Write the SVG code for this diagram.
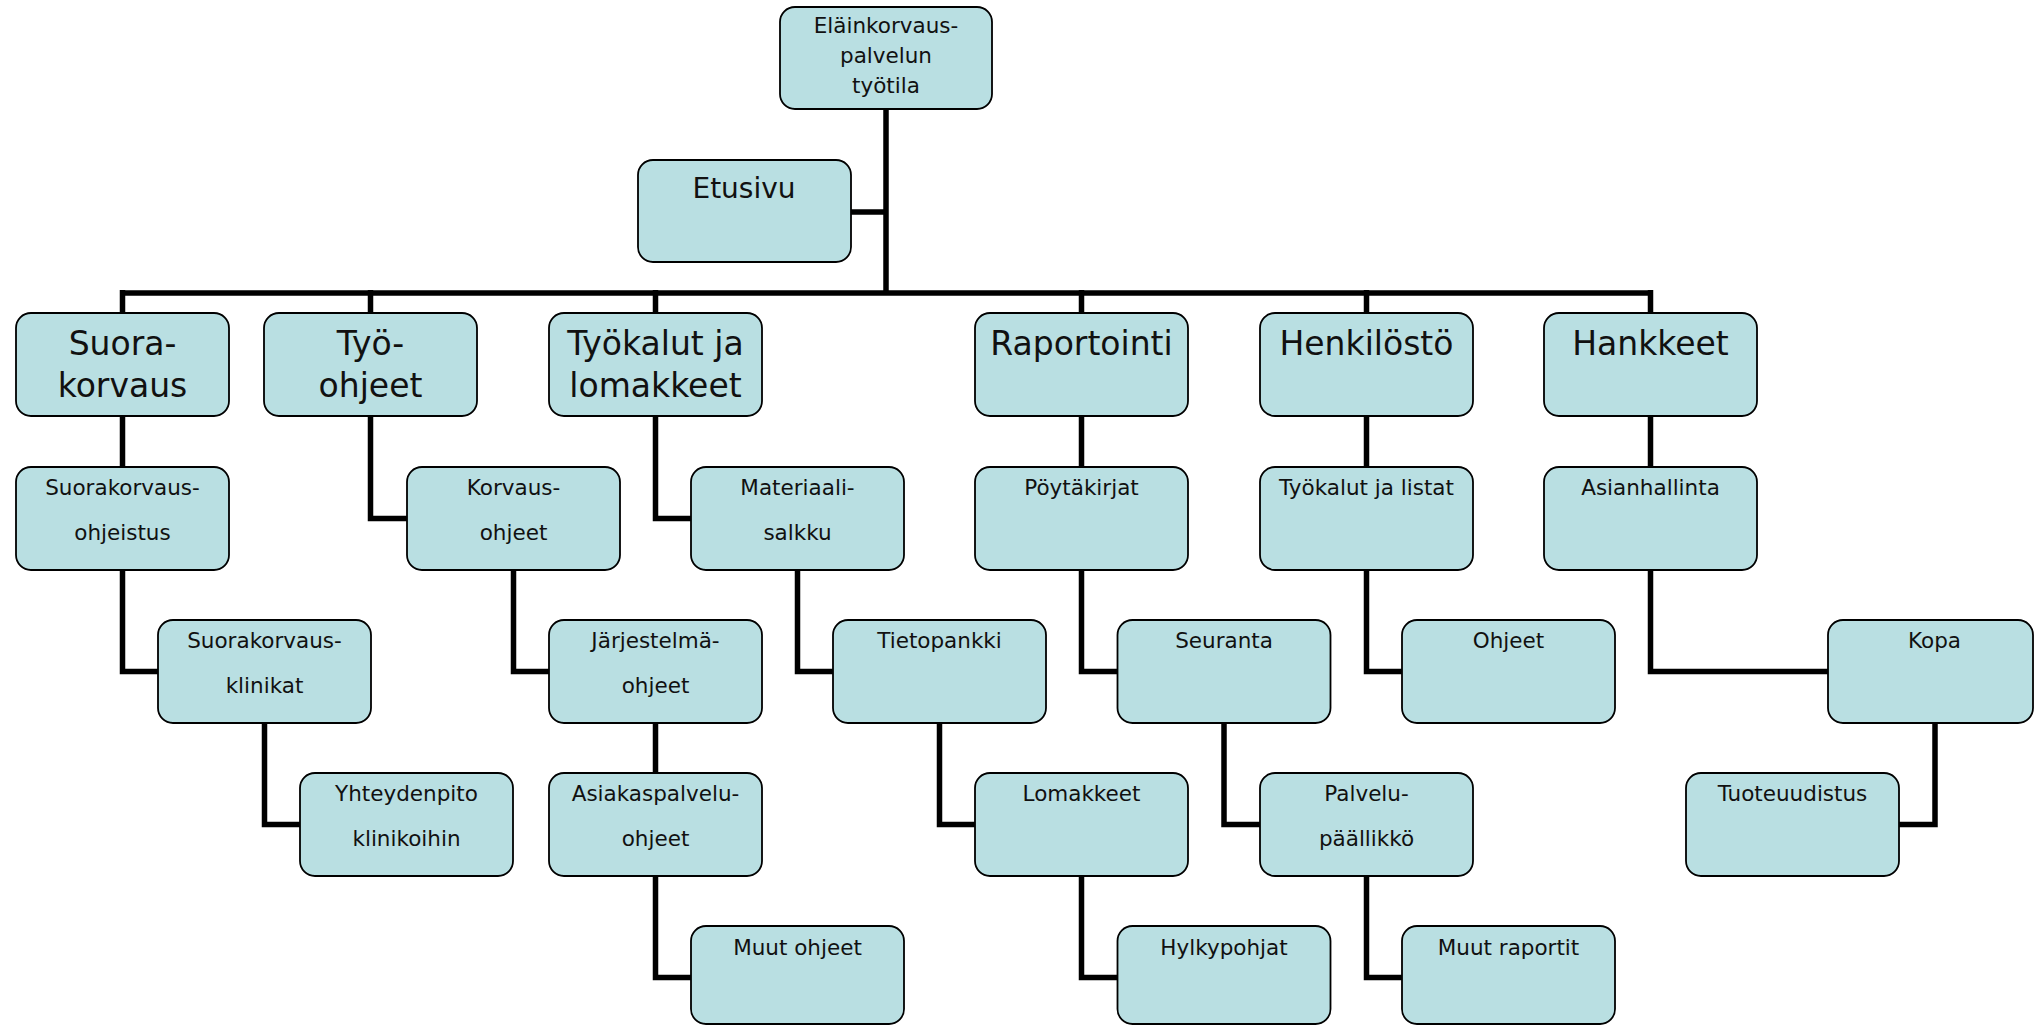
<svg xmlns="http://www.w3.org/2000/svg" width="2034" height="1026" viewBox="0 0 2034 1026">
<style>
.box{fill:#B9DFE2;stroke:#000;stroke-width:1.8}
text{font-family:"DejaVu Sans","Liberation Sans",sans-serif;fill:#111;text-anchor:middle}
.s{font-size:21.5px}
.l{font-size:33px}
.c{fill:none;stroke:#000;stroke-width:5.5;stroke-linejoin:miter;stroke-linecap:butt}
</style>
<rect width="2034" height="1026" fill="#fff"/>
<g id="connectors" class="c">
<path d="M886,109V293M851,212H886M122.5,293H1650.5M122.5,290V313M370.5,290V313M655.5,290V313M1081.5,290V313M1366.5,290V313M1650.5,290V313"/>
<path d="M122.5,416V467M122.5,570V671.5H158M264.5,723V824.5H300"/>
<path d="M370.5,416V518.5H407M513.5,570V671.5H549M655.5,723V773M655.5,876V977.5H691"/>
<path d="M655.5,416V518.5H691M797.5,570V671.5H833M939.5,723V824.5H975M1081.5,876V977.5H1117.5"/>
<path d="M1081.5,416V467M1081.5,570V671.5H1117.5M1224,723V824.5H1260M1366.5,876V977.5H1402"/>
<path d="M1366.5,416V467M1366.5,570V671.5H1402"/>
<path d="M1650.5,416V467M1650.5,570V671.5H1828M1935,723V824.5H1899"/>
</g>
<g id="n-root"><rect class="box" x="780" y="7" width="212" height="102" rx="15"/><text class="s" x="886" y="33" font-size="21">Eläinkorvaus-</text><text class="s" x="886" y="63">palvelun</text><text class="s" x="886" y="92.5">työtila</text></g>
<g id="n-etusivu"><rect class="box" x="638" y="160" width="213" height="102" rx="15"/><text x="744" y="198" font-size="28">Etusivu</text></g>
<g id="n-suora"><rect class="box" x="16" y="313" width="213" height="103" rx="15"/><text class="l" x="122.5" y="355">Suora-</text><text class="l" x="122.5" y="397">korvaus</text></g>
<g id="n-tyoohjeet"><rect class="box" x="264" y="313" width="213" height="103" rx="15"/><text class="l" x="370.5" y="355">Työ-</text><text class="l" x="370.5" y="397">ohjeet</text></g>
<g id="n-tyokalut"><rect class="box" x="549" y="313" width="213" height="103" rx="15"/><text class="l" x="655.5" y="355">Työkalut ja</text><text class="l" x="655.5" y="397">lomakkeet</text></g>
<g id="n-raportointi"><rect class="box" x="975" y="313" width="213" height="103" rx="15"/><text class="l" x="1081.5" y="355">Raportointi</text></g>
<g id="n-henkilosto"><rect class="box" x="1260" y="313" width="213" height="103" rx="15"/><text class="l" x="1366.5" y="355">Henkilöstö</text></g>
<g id="n-hankkeet"><rect class="box" x="1544" y="313" width="213" height="103" rx="15"/><text class="l" x="1650.5" y="355">Hankkeet</text></g>
<g id="n-suoraohjeistus"><rect class="box" x="16" y="467" width="213" height="103" rx="15"/><text class="s" x="122.5" y="495">Suorakorvaus-</text><text class="s" x="122.5" y="540">ohjeistus</text></g>
<g id="n-korvausohjeet"><rect class="box" x="407" y="467" width="213" height="103" rx="15"/><text class="s" x="513.5" y="495">Korvaus-</text><text class="s" x="513.5" y="540">ohjeet</text></g>
<g id="n-materiaali"><rect class="box" x="691" y="467" width="213" height="103" rx="15"/><text class="s" x="797.5" y="495">Materiaali-</text><text class="s" x="797.5" y="540">salkku</text></g>
<g id="n-poytakirjat"><rect class="box" x="975" y="467" width="213" height="103" rx="15"/><text class="s" x="1081.5" y="495">Pöytäkirjat</text></g>
<g id="n-tyokalutlistat"><rect class="box" x="1260" y="467" width="213" height="103" rx="15"/><text class="s" x="1366.5" y="495">Työkalut ja listat</text></g>
<g id="n-asianhallinta"><rect class="box" x="1544" y="467" width="213" height="103" rx="15"/><text class="s" x="1650.5" y="495">Asianhallinta</text></g>
<g id="n-klinikat"><rect class="box" x="158" y="620" width="213" height="103" rx="15"/><text class="s" x="264.5" y="648">Suorakorvaus-</text><text class="s" x="264.5" y="693">klinikat</text></g>
<g id="n-jarjestelma"><rect class="box" x="549" y="620" width="213" height="103" rx="15"/><text class="s" x="655.5" y="648">Järjestelmä-</text><text class="s" x="655.5" y="693">ohjeet</text></g>
<g id="n-tietopankki"><rect class="box" x="833" y="620" width="213" height="103" rx="15"/><text class="s" x="939.5" y="648">Tietopankki</text></g>
<g id="n-seuranta"><rect class="box" x="1117.5" y="620" width="213" height="103" rx="15"/><text class="s" x="1224" y="648">Seuranta</text></g>
<g id="n-ohjeet"><rect class="box" x="1402" y="620" width="213" height="103" rx="15"/><text class="s" x="1508.5" y="648">Ohjeet</text></g>
<g id="n-kopa"><rect class="box" x="1828" y="620" width="205" height="103" rx="15"/><text class="s" x="1934.5" y="648">Kopa</text></g>
<g id="n-yhteydenpito"><rect class="box" x="300" y="773" width="213" height="103" rx="15"/><text class="s" x="406.5" y="801">Yhteydenpito</text><text class="s" x="406.5" y="846">klinikoihin</text></g>
<g id="n-asiakaspalvelu"><rect class="box" x="549" y="773" width="213" height="103" rx="15"/><text class="s" x="655.5" y="801">Asiakaspalvelu-</text><text class="s" x="655.5" y="846">ohjeet</text></g>
<g id="n-lomakkeet"><rect class="box" x="975" y="773" width="213" height="103" rx="15"/><text class="s" x="1081.5" y="801">Lomakkeet</text></g>
<g id="n-palvelu"><rect class="box" x="1260" y="773" width="213" height="103" rx="15"/><text class="s" x="1366.5" y="801">Palvelu-</text><text class="s" x="1366.5" y="846">päällikkö</text></g>
<g id="n-tuoteuudistus"><rect class="box" x="1686" y="773" width="213" height="103" rx="15"/><text class="s" x="1792.5" y="801">Tuoteuudistus</text></g>
<g id="n-muutohjeet"><rect class="box" x="691" y="926" width="213" height="98" rx="15"/><text class="s" x="797.5" y="955">Muut ohjeet</text></g>
<g id="n-hylkypohjat"><rect class="box" x="1117.5" y="926" width="213" height="98" rx="15"/><text class="s" x="1224" y="955">Hylkypohjat</text></g>
<g id="n-muutraportit"><rect class="box" x="1402" y="926" width="213" height="98" rx="15"/><text class="s" x="1508.5" y="955">Muut raportit</text></g>
</svg>
